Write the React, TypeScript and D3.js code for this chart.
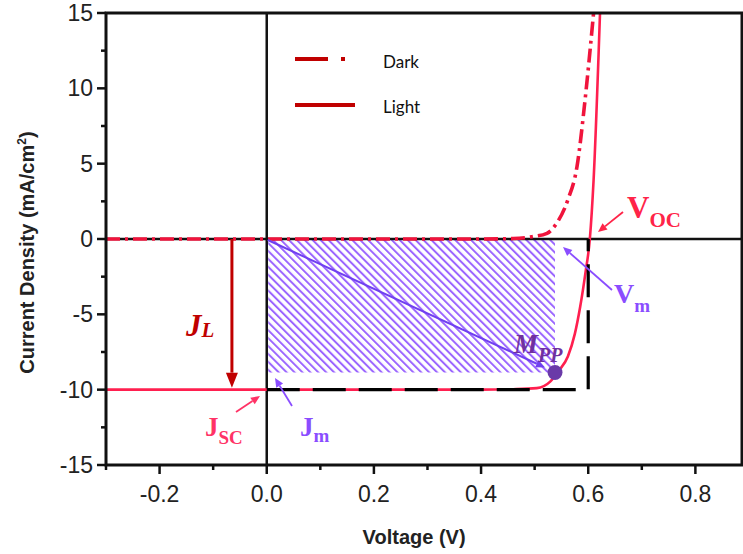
import React, { useEffect, useRef } from "react";
import * as d3 from "d3";

// I-V characteristics of a solar cell
const darkV = [-0.3, 0, 0.2, 0.4, 0.46, 0.495, 0.523, 0.541, 0.562, 0.579, 0.594, 0.61];
const darkJ = [0, 0, 0, 0, 0.03, 0.15, 0.38, 1.04, 2.6, 4.8, 9.2, 15];

const lightV = [-0.3, 0, 0.2, 0.4, 0.46, 0.504, 0.529, 0.545, 0.562, 0.575, 0.585, 0.595, 0.603, 0.61, 0.622];
const lightJ = [-10, -10, -10, -10, -9.97, -9.9, -9.47, -8.75, -7.8, -6.3, -4.5, -2.2, 0, 3.9, 15];

const jsc = -10;
const voc = 0.6;
const mppV = 0.538;
const mppJ = -8.86;

const xTicks = [-0.2, 0.0, 0.2, 0.4, 0.6, 0.8];
const xMinorTicks = [-0.3, -0.1, 0.1, 0.3, 0.5, 0.7];
const yTicks = [-15, -10, -5, 0, 5, 10, 15];
const yMinorTicks = [-12.5, -7.5, -2.5, 2.5, 7.5, 12.5];

const legendItems = ["Dark", "Light"];

const W = 743;
const H = 554;

function arrow(g: any, x1: number, y1: number, x2: number, y2: number, color: string, sw: number, hl: number, hw: number) {
  const a = Math.atan2(y2 - y1, x2 - x1);
  const bx = x2 - hl * Math.cos(a);
  const by = y2 - hl * Math.sin(a);
  g.append("line")
    .attr("x1", x1).attr("y1", y1).attr("x2", bx).attr("y2", by)
    .attr("stroke", color).attr("stroke-width", sw);
  const px = -Math.sin(a) * hw;
  const py = Math.cos(a) * hw;
  g.append("polygon")
    .attr("points", `${x2},${y2} ${bx + px},${by + py} ${bx - px},${by - py}`)
    .attr("fill", color);
}

function subLabel(g: any, x: number, y: number, main: string, sub: string, color: string, size: number, subSize: number, italic: boolean, dy: number) {
  const t = g.append("text")
    .attr("x", x).attr("y", y)
    .attr("fill", color)
    .style("font-family", "'Liberation Serif', 'DejaVu Serif', serif")
    .style("font-weight", "bold")
    .style("font-style", italic ? "italic" : "normal")
    .style("font-size", `${size}px`);
  t.append("tspan").text(main);
  t.append("tspan").attr("dy", dy).style("font-size", `${subSize}px`).text(sub);
}

// hyphen minus like the original plot
const fmt = (f: string) => (v: number) => d3.format(f)(v).replace("\u2212", "-");

export default function App() {
  const ref = useRef<SVGSVGElement>(null);

  useEffect(() => {
    const svg = d3.select(ref.current);
    svg.selectAll("*").remove();

    const x = d3.scaleLinear().domain([-0.3, 0.887]).range([106, 742]);
    const y = d3.scaleLinear().domain([-15, 15]).range([465, 13]);
    const left = x(-0.3), right = x(0.887), top = y(15), bottom = y(-15);

    const defs = svg.append("defs");
    defs.append("clipPath").attr("id", "plotClip")
      .append("rect").attr("x", left).attr("y", top).attr("width", right - left).attr("height", bottom - top);
    const pat = defs.append("pattern")
      .attr("id", "hatch")
      .attr("patternUnits", "userSpaceOnUse")
      .attr("width", 5.6).attr("height", 10)
      .attr("patternTransform", "rotate(-45)");
    pat.append("line").attr("x1", 1).attr("y1", 0).attr("x2", 1).attr("y2", 10)
      .attr("stroke", "#9b66ff").attr("stroke-width", 2);

    svg.append("rect").attr("width", W).attr("height", H).attr("fill", "#fff");

    const plot = svg.append("g").attr("clip-path", "url(#plotClip)");

    // hatched max power rectangle
    plot.append("rect")
      .attr("x", x(0) + 1.5).attr("y", y(0) + 1)
      .attr("width", x(mppV) - x(0) - 1.5)
      .attr("height", y(mppJ) - y(0) - 1)
      .attr("fill", "url(#hatch)");

    // zero lines
    plot.append("line").attr("x1", left).attr("x2", right).attr("y1", y(0)).attr("y2", y(0))
      .attr("stroke", "#111").attr("stroke-width", 2.5);
    plot.append("line").attr("x1", x(0)).attr("x2", x(0)).attr("y1", top).attr("y2", bottom)
      .attr("stroke", "#111").attr("stroke-width", 2.5);

    const line = d3.line<number>()
      .x((_, i) => x(lightV[i]))
      .y((d) => y(d))
      .curve(d3.curveMonotoneX);
    const darkLine = d3.line<number>()
      .x((_, i) => x(darkV[i]))
      .y((d) => y(d))
      .curve(d3.curveMonotoneX);

    // light curve
    plot.append("path").datum(lightJ).attr("d", line)
      .attr("fill", "none").attr("stroke", "#ff1f4f").attr("stroke-width", 2.6);

    // dark curve, dash-dot
    plot.append("path").datum(darkJ).attr("d", darkLine)
      .attr("fill", "none").attr("stroke", "#f0143c").attr("stroke-width", 3.6)
      .attr("stroke-dasharray", "14,5,3,5");

    // Jsc / Voc dashed box
    plot.append("path")
      .attr("d", `M${x(0)},${y(jsc)} H${x(voc)} V${y(0)}`)
      .attr("fill", "none").attr("stroke", "#000").attr("stroke-width", 3.2)
      .attr("stroke-dasharray", "33,13");

    // frame
    svg.append("rect").attr("x", left).attr("y", top).attr("width", right - left).attr("height", bottom - top)
      .attr("fill", "none").attr("stroke", "#111").attr("stroke-width", 3);

    // ticks
    const tk = svg.append("g").attr("stroke", "#111").attr("stroke-width", 2.5);
    yTicks.forEach((t) => tk.append("line").attr("x1", left - 9).attr("x2", left).attr("y1", y(t)).attr("y2", y(t)));
    yMinorTicks.forEach((t) => tk.append("line").attr("x1", left - 5).attr("x2", left).attr("y1", y(t)).attr("y2", y(t)));
    xTicks.forEach((t) => tk.append("line").attr("x1", x(t)).attr("x2", x(t)).attr("y1", bottom).attr("y2", bottom + 9));
    xMinorTicks.forEach((t) => tk.append("line").attr("x1", x(t)).attr("x2", x(t)).attr("y1", bottom).attr("y2", bottom + 5));

    const sans = "'Liberation Sans', Arial, sans-serif";
    yTicks.forEach((t) =>
      svg.append("text").attr("x", left - 13).attr("y", y(t) + 8)
        .attr("text-anchor", "end").style("font-family", sans).style("font-size", "23px").attr("fill", "#222")
        .text(fmt("d")(t))
    );
    xTicks.forEach((t) =>
      svg.append("text").attr("x", x(t)).attr("y", bottom + 37)
        .attr("text-anchor", "middle").style("font-family", sans).style("font-size", "23px").attr("fill", "#222")
        .text(fmt(".1f")(t))
    );

    // axis titles
    svg.append("text").attr("x", x(0.275)).attr("y", 544)
      .attr("text-anchor", "middle").style("font-family", sans).style("font-weight", "bold")
      .style("font-size", "20px").attr("fill", "#222").text("Voltage (V)");
    const yt = svg.append("text")
      .attr("transform", `translate(34,${y(-0.9)}) rotate(-90)`)
      .attr("text-anchor", "middle").style("font-family", sans).style("font-weight", "bold")
      .style("font-size", "20px").attr("fill", "#222");
    yt.append("tspan").text("Current Density (mA/cm");
    yt.append("tspan").attr("dy", -8).style("font-size", "12px").text("2");
    yt.append("tspan").attr("dy", 8).text(")");

    // legend
    const lg = svg.append("g");
    lg.append("line").attr("x1", 295).attr("x2", 346).attr("y1", 59).attr("y2", 59)
      .attr("stroke", "#c00000").attr("stroke-width", 4).attr("stroke-dasharray", "33,13,4,40");
    lg.append("line").attr("x1", 295).attr("x2", 355).attr("y1", 105).attr("y2", 105)
      .attr("stroke", "#c00000").attr("stroke-width", 4);
    legendItems.forEach((name, i) =>
      lg.append("text").attr("x", 383).attr("y", 68 + i * 45)
        .style("font-family", "Lato, 'Open Sans', sans-serif").style("font-size", "17px").attr("fill", "#111")
        .text(name)
    );

    const ann = svg.append("g");
    // JL arrow
    arrow(ann, x(-0.065), y(0), x(-0.065), y(jsc) - 2, "#c00000", 3, 15, 6);
    subLabel(ann, 186, 336, "J", "L", "#c00000", 31, 21, true, 1);

    // diagonal to MPP
    arrow(ann, x(0) + 1, y(0) + 1, x(mppV) - 10, y(mppJ) - 5, "#7040f0", 2, 9, 4);

    // MPP dot & label
    ann.append("circle").attr("cx", x(mppV)).attr("cy", y(mppJ)).attr("r", 7.5).attr("fill", "#6a3aa8");
    subLabel(ann, 514, 353, "M", "PP", "#7030a0", 27, 20, true, 9);

    // Voc
    arrow(ann, 623, 212, 598, 232, "#ff2448", 1.8, 9, 4);
    subLabel(ann, 627, 218, "V", "OC", "#ff2448", 31, 21, false, 9);

    // Vm
    arrow(ann, 612, 290, 563, 247, "#8a4dff", 1.8, 9, 4);
    subLabel(ann, 614, 303, "V", "m", "#8a4dff", 28, 19, false, 9);

    // Jsc
    arrow(ann, 236, 412, 260, 396, "#ff3366", 1.8, 9, 4);
    subLabel(ann, 205, 436, "J", "SC", "#ff3366", 27, 19, false, 8);

    // Jm
    arrow(ann, 292, 406, 275, 378, "#8a4dff", 1.8, 9, 4);
    subLabel(ann, 300, 436, "J", "m", "#8a4dff", 27, 19, false, 6);
  }, []);

  return (
    <svg
      ref={ref}
      width={W}
      height={H}
      style={{ position: "absolute", left: 0, top: 0, display: "block" }}
    />
  );
}
